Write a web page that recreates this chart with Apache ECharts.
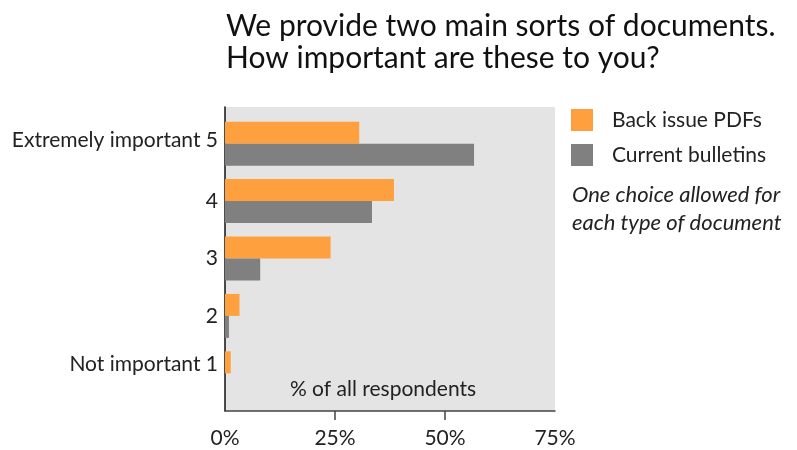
<!DOCTYPE html>
<html>
<head>
<meta charset="utf-8">
<script src="https://cdn.jsdelivr.net/npm/echarts@6/dist/echarts.min.js"></script>
<style>
  html, body { margin: 0; padding: 0; background: #fff; }
  #chart { width: 797px; height: 450px; }
</style>
</head>
<body>
<div id="chart"></div>
<script>
// categories bottom -> top
const categories = ["Not important 1", "2", "3", "4", "Extremely important 5"]
const backIssue = [1.3, 3.3, 24, 38.4, 30.5]
const current = [0, 0.9, 8, 33.4, 56.6]
const xTicks = [0, 25, 50, 75]

const font = "Lato"
const ink = "#222"

let myChart = echarts.init(document.getElementById("chart"))

let options = {
    animation: false,
    title: [{
        text: "We provide two main sorts of documents.\nHow important are these to you?",
        left: 226,
        top: 10,
        padding: 0,
        textStyle: { fontFamily: font, fontSize: 30, fontWeight: "normal", color: "#111", lineHeight: 32 }
    }, {
        text: "One choice allowed for\neach type of document",
        left: 572,
        top: 181,
        padding: 0,
        textStyle: { fontFamily: font, fontSize: 22, fontStyle: "italic", fontWeight: "normal", color: ink, lineHeight: 28 }
    }],
    legend: {
        orient: "vertical",
        left: 571,
        top: 109,
        padding: 0,
        itemWidth: 22,
        itemHeight: 22,
        itemGap: 13,
        icon: "rect",
        textStyle: { fontFamily: font, fontSize: 21, color: ink, padding: [0, 0, 0, 14] },
        data: ["Back issue PDFs", "Current bulletins"]
    },
    grid: [
        // background + axes
        { left: 225, right: 242, top: 107, bottom: 39, show: true, backgroundColor: "#e4e4e4", borderWidth: 0 },
        // bars
        { left: 225, right: 242, top: 115, bottom: 48 }
    ],
    xAxis: [{
        gridIndex: 0,
        type: "value",
        min: 0,
        max: 75,
        interval: 25,
        name: "% of all respondents",
        nameLocation: "middle",
        nameGap: -36,
        nameTextStyle: {
            fontFamily: font, fontSize: 21, color: ink, lineHeight: 22,
            backgroundColor: "#e4e4e4", padding: [3, 16, 3, 2]
        },
        axisLine: { show: true, lineStyle: { color: "#444", width: 1.5 } },
        axisTick: { show: true, length: 9, inside: false, customValues: [25, 50], lineStyle: { color: "#444", width: 1.5 } },
        axisLabel: {
            fontFamily: font, fontSize: 21, color: ink, margin: 17,
            customValues: xTicks,
            formatter: v => v + "%"
        },
        splitLine: { show: true, showMinLine: false, showMaxLine: false, lineStyle: { color: "#444", width: 1.5 } }
    }, {
        gridIndex: 1,
        type: "value",
        min: 0,
        max: 75,
        show: false
    }],
    yAxis: [{
        gridIndex: 0,
        type: "value",
        min: 0,
        max: 1,
        axisLine: { show: true, lineStyle: { color: "#111", width: 1.5 } },
        axisTick: { show: false },
        axisLabel: { show: false },
        splitLine: { show: false }
    }, {
        gridIndex: 1,
        type: "category",
        data: categories,
        axisLine: { show: false },
        axisTick: { show: false },
        axisLabel: {
            fontFamily: font, fontSize: 21, color: ink, margin: 7,
            // the outer labels sit a little higher than the band centre
            formatter: (v, i) => i === 0 ? "{lo|" + v + "}" : i === 4 ? "{hi|" + v + "}" : v,
            rich: {
                lo: { fontFamily: font, fontSize: 21, color: ink, padding: [0, 0, 18, 0] },
                hi: { fontFamily: font, fontSize: 21, color: ink, padding: [0, 0, 6, 0] }
            }
        }
    }],
    series: [{
        name: "Back issue PDFs",
        type: "bar",
        xAxisIndex: 1,
        yAxisIndex: 1,
        data: backIssue,
        barWidth: 22,
        barGap: "0%",
        itemStyle: { color: "#ffa03e" }
    }, {
        name: "Current bulletins",
        type: "bar",
        xAxisIndex: 1,
        yAxisIndex: 1,
        data: current,
        barWidth: 22,
        barGap: "0%",
        itemStyle: { color: "#808080" }
    }]
}
myChart.setOption(options)
</script>
</body>
</html>
